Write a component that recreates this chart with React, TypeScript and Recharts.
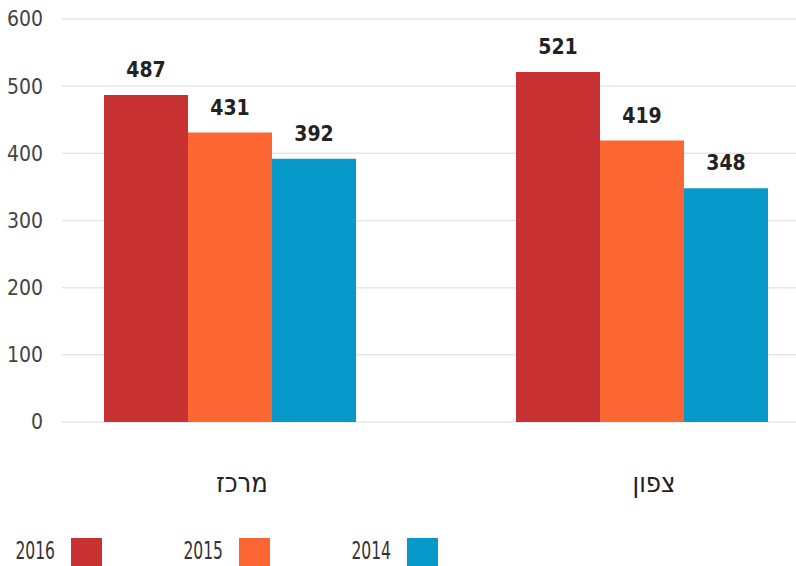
import { Bar, BarChart, CartesianGrid, LabelList, XAxis, YAxis } from "recharts";

// שכר לפי אזור, שלוש שנים. עמודות צמודות, תוויות ערך מעל כל עמודה.

const regions = ["מרכז", "צפון"];
const v2016 = [487, 521];
const v2015 = [431, 419];
const v2014 = [392, 348];
const yTicks = [0, 100, 200, 300, 400, 500, 600];

const years = ["2016", "2015", "2014"];
const colors = ["#c93232", "#fc6633", "#0899cb"];

const data = regions.map((r, i) => ({
  region: r,
  "2016": v2016[i],
  "2015": v2015[i],
  "2014": v2014[i],
}));

const numFont = "'DejaVu Sans Condensed', 'DejaVu Sans', sans-serif";

function RegionTick({ x, y, payload }: { x?: number; y?: number; payload?: { value: string } }) {
  return (
    <text
      x={(x ?? 0) + 12}
      y={(y ?? 0) + 70}
      textAnchor="middle"
      fill="#222"
      fontSize={27}
      fontFamily={numFont}
    >
      {payload?.value}
    </text>
  );
}

// מקרא: שנה ואז ריבוע צבע, בשורה אחת בתחתית
function YearLegend() {
  return (
    <div style={{ position: "absolute", left: 0, top: 538, width: 796, height: 28 }}>
      {years.map((y, i) => (
        <div key={y} style={{ position: "absolute", left: i * 168, top: 0, width: 110, height: 31 }}>
          <span
            style={{
              position: "absolute",
              right: 110 - 55,
              top: 0,
              fontFamily: numFont,
              fontSize: 24,
              lineHeight: "26px",
              color: "#333",
              transform: "scaleX(0.72)",
              transformOrigin: "right center",
              whiteSpace: "nowrap",
            }}
          >
            {y}
          </span>
          <span
            style={{ position: "absolute", left: 71, top: 0, width: 31, height: 31, background: colors[i] }}
          />
        </div>
      ))}
    </div>
  );
}

export default function App() {
  return (
    <div style={{ position: "absolute", left: 0, top: 0, width: 796, height: 566, overflow: "hidden", background: "#fff" }}>
      <BarChart
        width={796}
        height={566}
        data={data}
        margin={{ top: 19, right: 0, bottom: 84, left: 0 }}
        barGap={0}
        barSize={84}
      >
        <CartesianGrid stroke="#e6e6e6" strokeWidth={1.5} vertical={false} />
        <XAxis
          dataKey="region"
          axisLine={false}
          tickLine={false}
          tickSize={0}
          tickMargin={0}
          height={60}
          padding={{ left: -38, right: -52 }}
          tick={<RegionTick />}
          interval={0}
        />
        <YAxis
          domain={[0, 600]}
          ticks={yTicks}
          axisLine={false}
          tickLine={false}
          tickSize={0}
          tickMargin={19}
          width={62}
          tick={{ fill: "#444", fontSize: 21, fontFamily: numFont }}
        />
        {years.map((y, i) => (
          <Bar key={y} dataKey={y} fill={colors[i]} isAnimationActive={false}>
            <LabelList
              dataKey={y}
              position="top"
              offset={18}
              fill="#222"
              fontSize={21}
              fontWeight="bold"
              fontFamily={numFont}
            />
          </Bar>
        ))}
      </BarChart>
      <YearLegend />
    </div>
  );
}
